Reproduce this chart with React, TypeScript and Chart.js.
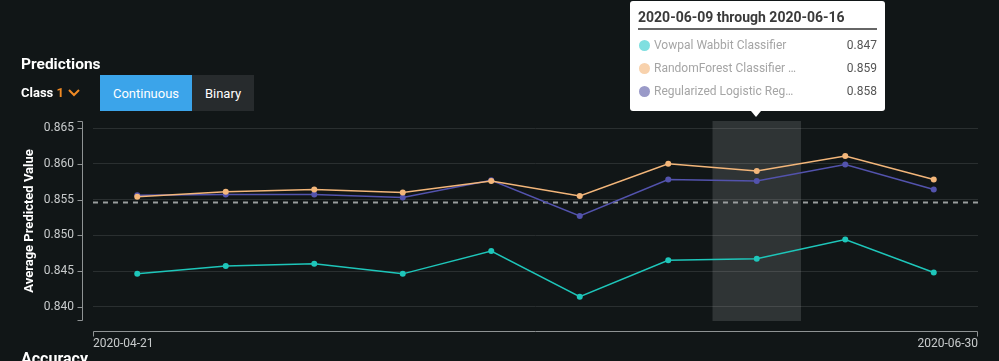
import React, { useEffect, useRef } from "react";
import { Chart, registerables } from "chart.js";

Chart.register(...registerables);

const PERIOD_STARTS = ["2020-04-21", "2020-04-28", "2020-05-05", "2020-05-12", "2020-05-19", "2020-05-26", "2020-06-02", "2020-06-09", "2020-06-16", "2020-06-23", "2020-06-30"];
const X_TICK_LABELS = ["2020-04-21", "2020-06-30"];
const Y_TICKS = [0.84, 0.845, 0.85, 0.855, 0.86, 0.865];

const SERIES_NAMES = ["Vowpal Wabbit Classifier", "RandomForest Classifier …", "Regularized Logistic Reg…"];
const VOWPAL = [0.8446, 0.8457, 0.846, 0.8446, 0.8478, 0.8414, 0.8465, 0.8467, 0.8494, 0.8448];
const RANDOM_FOREST = [0.8554, 0.8561, 0.8564, 0.856, 0.8576, 0.8555, 0.86, 0.859, 0.8611, 0.8578];
const LOGISTIC = [0.8556, 0.8557, 0.8557, 0.8553, 0.8577, 0.8527, 0.8578, 0.8576, 0.8599, 0.8564];
const REFERENCE_VALUE = 0.8547;
const HOVER_INDEX = 7;

const COLORS = ["#1ec6ba", "#f3b67a", "#5353ad"];
const DOT_COLORS = ["#7fdfe0", "#f8d2ad", "#9a9ac8"];

const overlayPlugin = {
  id: "overlay",
  beforeDatasetsDraw(chart: any) {
    const { ctx, chartArea, scales } = chart;
    const x = scales.x;
    const y = scales.y;
    ctx.save();
    const x0 = x.getPixelForValue(HOVER_INDEX);
    const x1 = x.getPixelForValue(HOVER_INDEX + 1);
    ctx.fillStyle = "rgba(255,255,255,0.13)";
    ctx.fillRect(x0, chartArea.top, x1 - x0, chartArea.bottom - chartArea.top);
    const yr = Math.round(y.getPixelForValue(REFERENCE_VALUE)) + 0.5;
    ctx.strokeStyle = "#9a9d9e";
    ctx.lineWidth = 2;
    ctx.setLineDash([5, 5]);
    ctx.beginPath();
    ctx.moveTo(chartArea.left, yr);
    ctx.lineTo(chartArea.right, yr);
    ctx.stroke();
    ctx.setLineDash([]);
    ctx.strokeStyle = "#8f9394";
    ctx.lineWidth = 1;
    const ax = chartArea.left - 10.5;
    ctx.beginPath();
    ctx.moveTo(ax - 5, chartArea.top + 0.5);
    ctx.lineTo(ax, chartArea.top + 0.5);
    ctx.lineTo(ax, chartArea.bottom - 0.5);
    ctx.lineTo(ax - 5, chartArea.bottom - 0.5);
    for (const v of Y_TICKS) {
      const py = Math.round(y.getPixelForValue(v)) + 0.5;
      ctx.moveTo(ax - 5, py);
      ctx.lineTo(ax, py);
    }
    ctx.stroke();
    const ay = chartArea.bottom + 10.5;
    const xl = Math.round(x.getPixelForValue(0)) + 0.5;
    const xr = Math.round(x.getPixelForValue(PERIOD_STARTS.length - 1)) - 0.5;
    ctx.beginPath();
    ctx.moveTo(xl, ay + 5);
    ctx.lineTo(xl, ay);
    ctx.lineTo(xr, ay);
    ctx.lineTo(xr, ay + 5);
    ctx.stroke();
    // x tick labels
    ctx.fillStyle = "#c8cbcc";
    ctx.font = "12px Roboto";
    ctx.textBaseline = "top";
    ctx.textAlign = "left";
    ctx.fillText(X_TICK_LABELS[0], xl - 0.5, ay + 6);
    ctx.textAlign = "right";
    ctx.fillText(X_TICK_LABELS[1], xr + 0.5, ay + 6);
    ctx.restore();
  },
};

function ChartView() {
  const ref = useRef<HTMLCanvasElement>(null);
  useEffect(() => {
    if (!ref.current) return;
    Chart.defaults.font.family = "Roboto";
    const mk = (vals: number[], i: number) => ({
      label: SERIES_NAMES[i],
      data: vals.map((v, k) => ({ x: k + 0.5, y: v })),
      borderColor: COLORS[i],
      backgroundColor: COLORS[i],
      borderWidth: 1.5,
      pointRadius: 3,
      pointBorderWidth: 0,
      pointHoverRadius: 3,
      tension: 0,
    });
    const chart = new Chart(ref.current, {
      type: "line",
      data: {
        datasets: [mk(VOWPAL, 0), mk(RANDOM_FOREST, 1), mk(LOGISTIC, 2)],
      },
      options: {
        animation: false,
        responsive: false,
        maintainAspectRatio: false,
        events: [],
        layout: { padding: { top: 121, bottom: 40, left: 14, right: 21 } },
        plugins: { legend: { display: false }, tooltip: { enabled: false } },
        scales: {
          x: {
            type: "linear",
            display: false,
            min: 0,
            max: PERIOD_STARTS.length - 1,
          },
          y: {
            type: "linear",
            min: 0.838,
            max: 0.866,
            grid: { color: "#2a2f30", drawTicks: false },
            border: { display: false },
            afterBuildTicks: (s: any) => {
              s.ticks = Y_TICKS.map((v) => ({ value: v }));
            },
            afterFit: (s: any) => {
              s.width = 79;
            },
            ticks: {
              padding: 19,
              color: "#c8cbcc",
              font: { size: 12 },
              callback: (v: any) => Number(v).toFixed(3),
            },
            title: {
              display: true,
              text: "Average Predicted Value",
              color: "#ffffff",
              font: { size: 13, weight: "bold" },
              padding: { top: 8, bottom: 0 },
            },
          },
        },
      },
      plugins: [overlayPlugin],
    } as any);
    return () => chart.destroy();
  }, []);
  return <canvas ref={ref} width={999} height={361} style={{ position: "absolute", left: 0, top: 0, width: 999, height: 361 }} />;
}

export default function App() {
  const hoverVals = [VOWPAL[HOVER_INDEX], RANDOM_FOREST[HOVER_INDEX], LOGISTIC[HOVER_INDEX]];
  return (
    <div style={{ position: "fixed", left: 0, top: 0, width: 999, height: 361, background: "#111617", overflow: "hidden", fontFamily: "Roboto, sans-serif" }}>
      <ChartView />
      <div style={{ position: "absolute", left: 21, top: 55, color: "#fff", fontSize: 15.5, fontWeight: 700 }}>Predictions</div>
      <div style={{ position: "absolute", left: 21, top: 85, color: "#fff", fontSize: 13, fontWeight: 700, display: "flex", alignItems: "center" }}>
        Class&nbsp;<span style={{ color: "#f08a24" }}>1</span>
        <svg width="12" height="8" style={{ marginLeft: 4 }}>
          <polyline points="1,1 6,6 11,1" fill="none" stroke="#f08a24" strokeWidth="2" />
        </svg>
      </div>
      <div style={{ position: "absolute", left: 100, top: 75, width: 92, height: 36, background: "#3ba4ea", color: "#fff", fontSize: 13, display: "flex", alignItems: "center", justifyContent: "center" }}>Continuous</div>
      <div style={{ position: "absolute", left: 192, top: 75, width: 62, height: 36, background: "#272b2d", color: "#fff", fontSize: 13, display: "flex", alignItems: "center", justifyContent: "center" }}>Binary</div>
      <div style={{ position: "absolute", left: 21, top: 349, color: "#fff", fontSize: 16, fontWeight: 700 }}>Accuracy</div>
      <div style={{ position: "absolute", left: 630, top: 1, width: 255, height: 110, background: "#fff", borderRadius: 3 }}>
        <div style={{ position: "absolute", left: 8, top: 8, width: 239, paddingBottom: 3, borderBottom: "2px solid #666", color: "#3a3a3a", fontSize: 14, fontWeight: 700 }}>
          {PERIOD_STARTS[HOVER_INDEX]} through {PERIOD_STARTS[HOVER_INDEX + 1]}
        </div>
        {SERIES_NAMES.map((n, i) => (
          <div key={n} style={{ position: "absolute", left: 9, top: 36 + i * 23, width: 238, height: 16, display: "flex", alignItems: "center", fontSize: 12 }}>
            <span style={{ width: 11, height: 11, borderRadius: 6, background: DOT_COLORS[i], display: "inline-block", marginRight: 4 }} />
            <span style={{ color: "#a5a5a5", flex: 1 }}>{n}</span>
            <span style={{ color: "#555" }}>{hoverVals[i].toFixed(3)}</span>
          </div>
        ))}
        <div style={{ position: "absolute", left: 121, top: 110, width: 0, height: 0, borderLeft: "5px solid transparent", borderRight: "5px solid transparent", borderTop: "6px solid #fff" }} />
      </div>
    </div>
  );
}
